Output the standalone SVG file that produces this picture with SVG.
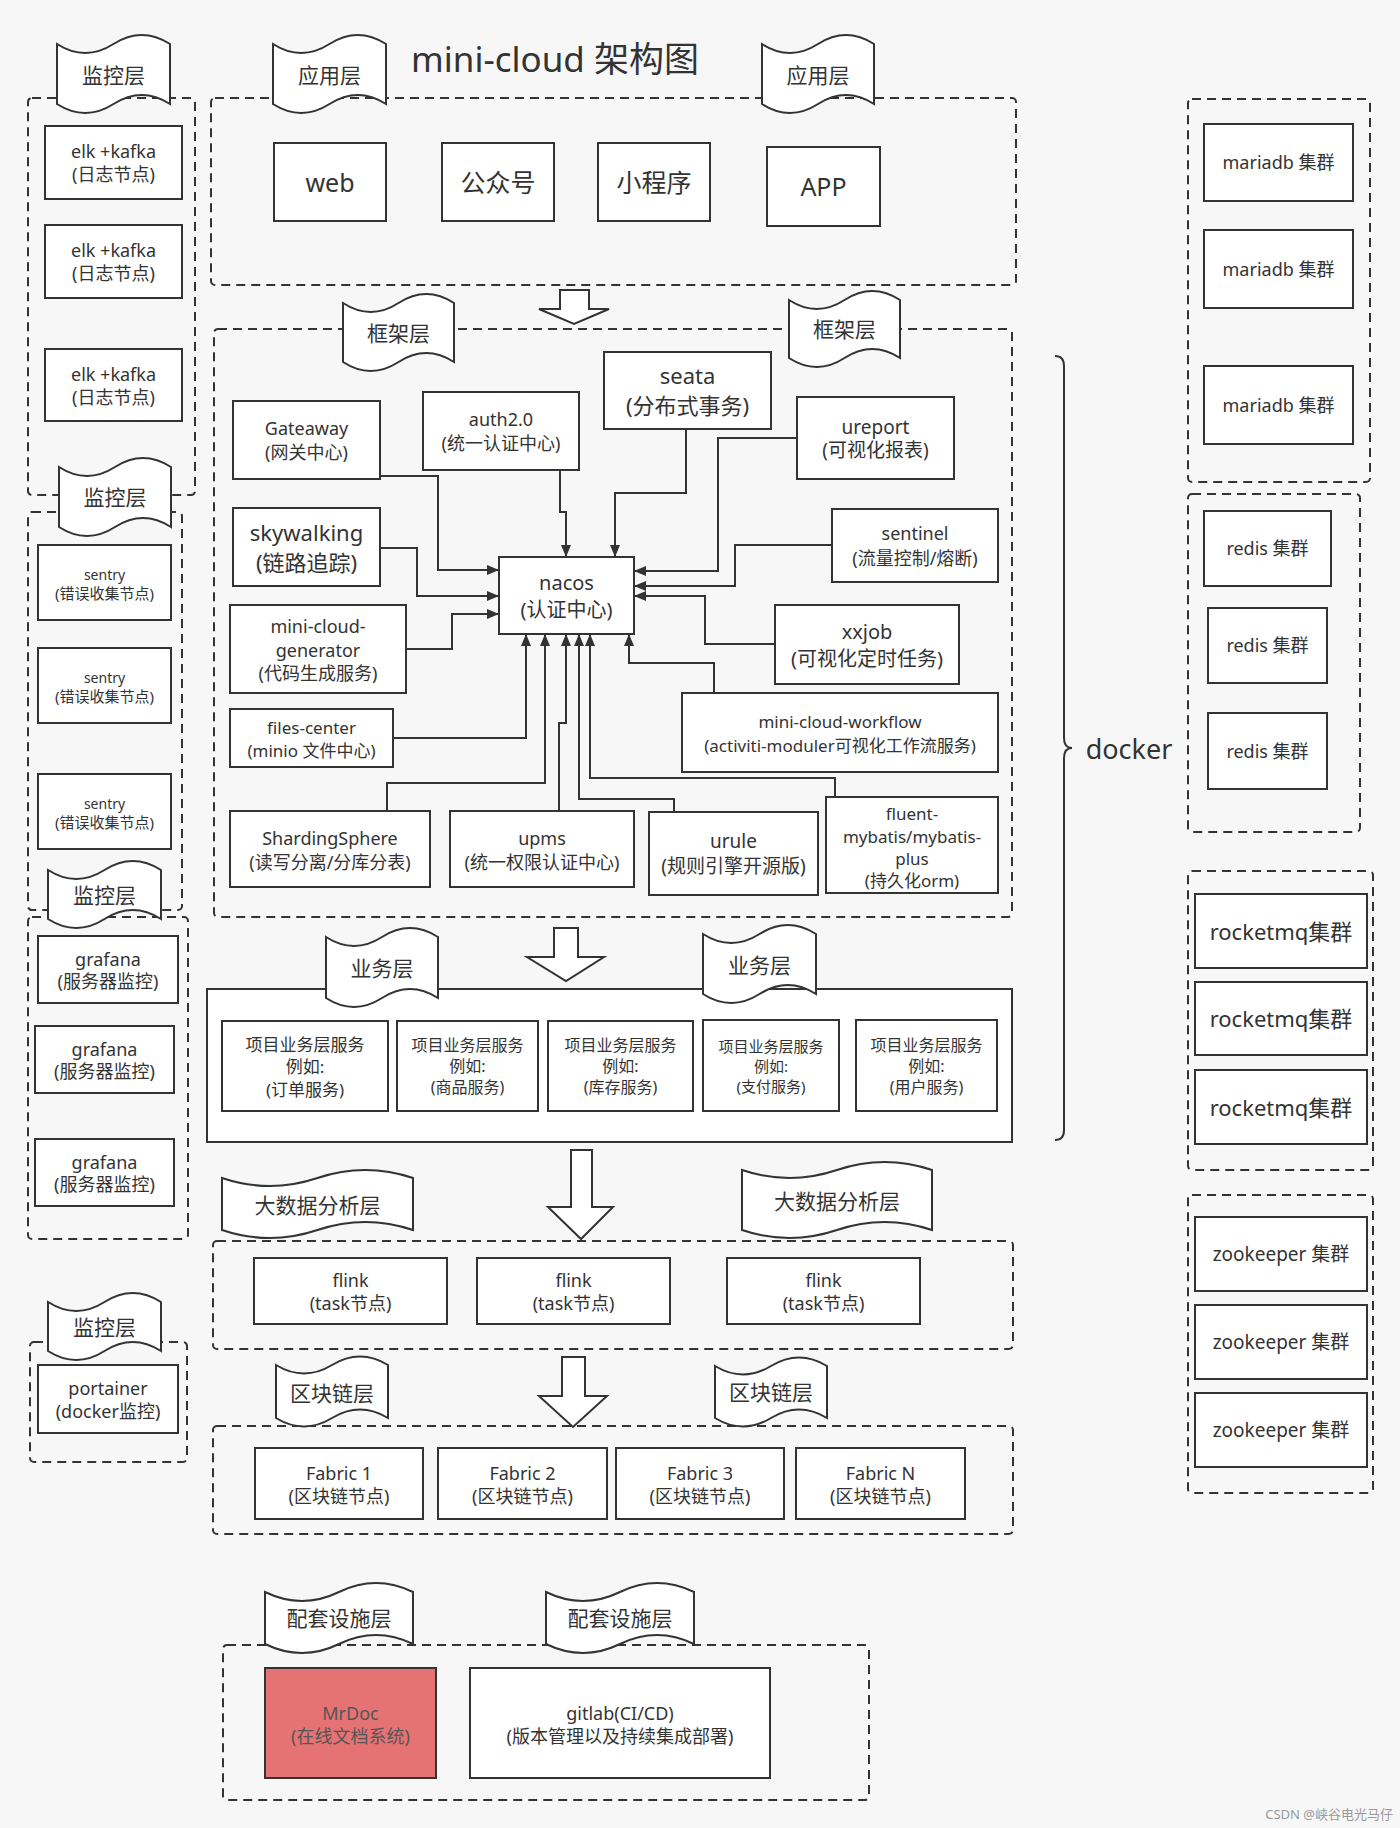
<svg xmlns="http://www.w3.org/2000/svg" width="1400" height="1828" viewBox="0 0 1400 1828">
<style>
.bg{fill:#f7f7f7}
.box{fill:#fff;stroke:#333;stroke-width:2}
.grp{fill:none;stroke:#333;stroke-width:2;stroke-dasharray:9 6}
.solid{fill:#fff;stroke:#333;stroke-width:2}
.tape{fill:#fff;stroke:#333;stroke-width:2}
.conn{fill:none;stroke:#333;stroke-width:2;marker-end:url(#ah)}
.big{fill:#fff;stroke:#333;stroke-width:2;stroke-linejoin:miter}
text{font-family:"Noto Sans","Noto Sans CJK SC",sans-serif;fill:#333;text-anchor:middle;dominant-baseline:central}
.f14{font-size:14px}.f15{font-size:15px}.f16{font-size:16px}.f17{font-size:17px}.f18{font-size:18px}.f19{font-size:19px}.f20{font-size:20px}.f22{font-size:22px}.f23{font-size:23px}.f24{font-size:24px}.f25{font-size:25px}
.lbl{font-size:21px}
.mr{fill:#e57373}
.mrt{fill:#555}
</style>
<defs>
<marker id="ah" viewBox="0 0 12 10" refX="12" refY="5" markerWidth="12" markerHeight="10" markerUnits="userSpaceOnUse" orient="auto"><path d="M0,0 L12,5 L0,10 Z" fill="#333"/></marker>
</defs>
<rect class="bg" x="0" y="0" width="1400" height="1828"/>

<g id="containers">
<rect class="grp" x="28" y="98" width="167" height="397" rx="4"/>
<rect class="grp" x="28" y="512" width="154" height="398" rx="4"/>
<rect class="grp" x="28" y="917" width="160" height="322" rx="4"/>
<rect class="grp" x="30" y="1342" width="157" height="120" rx="4"/>
<rect class="grp" x="211" y="98" width="805" height="187" rx="4"/>
<rect class="grp" x="214" y="329" width="798" height="588" rx="4"/>
<rect class="solid" x="207" y="989" width="805" height="153"/>
<rect class="grp" x="213" y="1241" width="800" height="108" rx="4"/>
<rect class="grp" x="213" y="1426" width="800" height="108" rx="4"/>
<rect class="grp" x="223" y="1645" width="646" height="155" rx="4"/>
<rect class="grp" x="1188" y="99" width="182" height="383" rx="4"/>
<rect class="grp" x="1188" y="494" width="172" height="338" rx="4"/>
<rect class="grp" x="1188" y="871" width="185" height="299" rx="4"/>
<rect class="grp" x="1188" y="1195" width="185" height="298" rx="4"/>
</g>

<g id="banners">
<path class="tape" d="M57,44 Q85.25,62 113.5,44 T170,44 L170,104 Q141.75,86 113.5,104 T57,104 Z"/><text class="lbl" x="113.5" y="75">监控层</text>
<path class="tape" d="M273,44 Q301.25,62 329.5,44 T386,44 L386,104 Q357.75,86 329.5,104 T273,104 Z"/><text class="lbl" x="329.5" y="75">应用层</text>
<path class="tape" d="M762,44 Q790,62 818,44 T874,44 L874,104 Q846,86 818,104 T762,104 Z"/><text class="lbl" x="818" y="75">应用层</text>
<path class="tape" d="M343,303 Q370.75,321 398.5,303 T454,303 L454,362 Q426.25,344 398.5,362 T343,362 Z"/><text class="lbl" x="398.5" y="333">框架层</text>
<path class="tape" d="M789,300 Q816.75,318 844.5,300 T900,300 L900,358 Q872.25,340 844.5,358 T789,358 Z"/><text class="lbl" x="844.5" y="329">框架层</text>
<path class="tape" d="M59,467 Q87,485 115,467 T171,467 L171,527 Q143,509 115,527 T59,527 Z"/><text class="lbl" x="115" y="497">监控层</text>
<path class="tape" d="M48,870 Q76.25,888 104.5,870 T161,870 L161,919 Q132.75,901 104.5,919 T48,919 Z"/><text class="lbl" x="104.5" y="895">监控层</text>
<path class="tape" d="M48,1302 Q76.25,1320 104.5,1302 T161,1302 L161,1351 Q132.75,1333 104.5,1351 T48,1351 Z"/><text class="lbl" x="104.5" y="1327">监控层</text>
<path class="tape" d="M326,937 Q354,955 382,937 T438,937 L438,998 Q410,980 382,998 T326,998 Z"/><text class="lbl" x="382" y="968">业务层</text>
<path class="tape" d="M703,934 Q731.25,952 759.5,934 T816,934 L816,994 Q787.75,976 759.5,994 T703,994 Z"/><text class="lbl" x="759.5" y="965">业务层</text>
<path class="tape" d="M222,1178 Q269.75,1194 317.5,1178 T413,1178 L413,1230 Q365.25,1214 317.5,1230 T222,1230 Z"/><text class="lbl" x="317.5" y="1205">大数据分析层</text>
<path class="tape" d="M742,1170 Q789.5,1186 837,1170 T932,1170 L932,1230 Q884.5,1214 837,1230 T742,1230 Z"/><text class="lbl" x="837" y="1201">大数据分析层</text>
<path class="tape" d="M276,1365 Q304,1382 332,1365 T388,1365 L388,1418 Q360,1401 332,1418 T276,1418 Z"/><text class="lbl" x="332" y="1393">区块链层</text>
<path class="tape" d="M715,1366 Q743,1383 771,1366 T827,1366 L827,1418 Q799,1401 771,1418 T715,1418 Z"/><text class="lbl" x="771" y="1392">区块链层</text>
<path class="tape" d="M265,1592 Q302,1610 339,1592 T413,1592 L413,1644 Q376,1626 339,1644 T265,1644 Z"/><text class="lbl" x="339" y="1618">配套设施层</text>
<path class="tape" d="M546,1592 Q583,1610 620,1592 T694,1592 L694,1644 Q657,1626 620,1644 T546,1644 Z"/><text class="lbl" x="620" y="1618">配套设施层</text>
</g>

<text x="411" y="58" style="font-size:35px;text-anchor:start">mini-cloud 架构图</text>

<g id="big-arrows">
<polygon class="big" points="560,290 589,290 589,309 609,309 574,324 539,309 560,309"/>
<polygon class="big" points="554,928 578,928 578,957 604,957 566,981 527,957 554,957"/>
<polygon class="big" points="571,1150 592,1150 592,1207 613,1207 581,1239 548,1207 571,1207"/>
<polygon class="big" points="562,1357 585,1357 585,1396 607,1396 573,1427 539,1396 562,1396"/>
</g>

<g id="connectors">
<path class="conn" d="M380,476 H438 V570 H499"/>
<path class="conn" d="M560,470 V512 H566 V557"/>
<path class="conn" d="M686,429 V493 H615 V557"/>
<path class="conn" d="M380,548 H417 V596 H499"/>
<path class="conn" d="M406,649 H452 V614 H499"/>
<path class="conn" d="M797,438 H718 V571 H634"/>
<path class="conn" d="M832,545 H735 V586 H634"/>
<path class="conn" d="M775,644 H705 V596 H634"/>
<path class="conn" d="M714,693 V663 H629 V634"/>
<path class="conn" d="M393,738 H526 V634"/>
<path class="conn" d="M387,811 V783 H545 V634"/>
<path class="conn" d="M559,811 V723 H566 V634"/>
<path class="conn" d="M674,812 V799 H579 V634"/>
<path class="conn" d="M835,797 V778 H590 V634"/>
</g>

<g id="n-elk1"><rect class="box" x="45" y="126" width="137" height="73"/><text class="f18" x="113.5" y="151">elk +kafka</text><text class="f18" x="113.5" y="174">(日志节点)</text></g>
<g id="n-elk2"><rect class="box" x="45" y="225" width="137" height="73"/><text class="f18" x="113.5" y="250">elk +kafka</text><text class="f18" x="113.5" y="273">(日志节点)</text></g>
<g id="n-elk3"><rect class="box" x="45" y="349" width="137" height="72"/><text class="f18" x="113.5" y="374">elk +kafka</text><text class="f18" x="113.5" y="397">(日志节点)</text></g>

<g id="n-sentry1"><rect class="box" x="38" y="545" width="133" height="75"/><text class="f14" x="104.5" y="574">sentry</text><text class="f15" x="104.5" y="593">(错误收集节点)</text></g>
<g id="n-sentry2"><rect class="box" x="38" y="648" width="133" height="75"/><text class="f14" x="104.5" y="677">sentry</text><text class="f15" x="104.5" y="696">(错误收集节点)</text></g>
<g id="n-sentry3"><rect class="box" x="38" y="774" width="133" height="75"/><text class="f14" x="104.5" y="803">sentry</text><text class="f15" x="104.5" y="822">(错误收集节点)</text></g>

<g id="n-grafana1"><rect class="box" x="38" y="936" width="140" height="67"/><text class="f18" x="108" y="959">grafana</text><text class="f18" x="108" y="981">(服务器监控)</text></g>
<g id="n-grafana2"><rect class="box" x="35" y="1026" width="139" height="67"/><text class="f18" x="104.5" y="1049">grafana</text><text class="f18" x="104.5" y="1071">(服务器监控)</text></g>
<g id="n-grafana3"><rect class="box" x="35" y="1139" width="139" height="67"/><text class="f18" x="104.5" y="1162">grafana</text><text class="f18" x="104.5" y="1184">(服务器监控)</text></g>
<g id="n-portainer"><rect class="box" x="38" y="1365" width="140" height="68"/><text class="f18" x="108" y="1388">portainer</text><text class="f18" x="108" y="1411">(docker监控)</text></g>

<g id="n-web"><rect class="box" x="274" y="143" width="112" height="78"/><text class="f25" x="330" y="182">web</text></g>
<g id="n-gzh"><rect class="box" x="442" y="143" width="112" height="78"/><text class="f25" x="498" y="182">公众号</text></g>
<g id="n-xcx"><rect class="box" x="598" y="143" width="112" height="78"/><text class="f25" x="654" y="182">小程序</text></g>
<g id="n-app"><rect class="box" x="767" y="147" width="113" height="79"/><text class="f25" x="823.5" y="186">APP</text></g>

<g id="n-gateaway"><rect class="box" x="233" y="401" width="147" height="78"/><text class="f18" x="306.5" y="428">Gateaway</text><text class="f18" x="306.5" y="452">(网关中心)</text></g>
<g id="n-auth"><rect class="box" x="423" y="392" width="156" height="78"/><text class="f18" x="501" y="419">auth2.0</text><text class="f18" x="501" y="443">(统一认证中心)</text></g>
<g id="n-seata"><rect class="box" x="604" y="352" width="167" height="77"/><text class="f22" x="687.5" y="375">seata</text><text class="f22" x="687.5" y="405">(分布式事务)</text></g>
<g id="n-ureport"><rect class="box" x="797" y="397" width="157" height="82"/><text class="f19" x="875.5" y="427">ureport</text><text class="f19" x="875.5" y="450">(可视化报表)</text></g>
<g id="n-skywalking"><rect class="box" x="233" y="508" width="147" height="78"/><text class="f22" x="306.5" y="532">skywalking</text><text class="f22" x="306.5" y="562">(链路追踪)</text></g>
<g id="n-nacos"><rect class="box" x="499" y="557" width="135" height="77"/><text class="f20" x="566.5" y="582">nacos</text><text class="f20" x="566.5" y="609">(认证中心)</text></g>
<g id="n-sentinel"><rect class="box" x="832" y="509" width="166" height="73"/><text class="f18" x="915" y="533">sentinel</text><text class="f18" x="915" y="558">(流量控制/熔断)</text></g>
<g id="n-generator"><rect class="box" x="230" y="605" width="176" height="88"/><text class="f18" x="318" y="626">mini-cloud-</text><text class="f18" x="318" y="650">generator</text><text class="f18" x="318" y="673">(代码生成服务)</text></g>
<g id="n-xxjob"><rect class="box" x="775" y="605" width="184" height="79"/><text class="f20" x="867" y="631">xxjob</text><text class="f20" x="867" y="658">(可视化定时任务)</text></g>
<g id="n-files"><rect class="box" x="230" y="709" width="163" height="58"/><text class="f17" x="311.5" y="727">files-center</text><text class="f17" x="311.5" y="750">(minio 文件中心)</text></g>
<g id="n-workflow"><rect class="box" x="682" y="693" width="316" height="79"/><text class="f17" x="840" y="721">mini-cloud-workflow</text><text class="f17" x="840" y="745">(activiti-moduler可视化工作流服务)</text></g>
<g id="n-sharding"><rect class="box" x="230" y="811" width="200" height="76"/><text class="f18" x="330" y="838">ShardingSphere</text><text class="f18" x="330" y="862">(读写分离/分库分表)</text></g>
<g id="n-upms"><rect class="box" x="450" y="811" width="184" height="76"/><text class="f18" x="542" y="838">upms</text><text class="f18" x="542" y="862">(统一权限认证中心)</text></g>
<g id="n-urule"><rect class="box" x="649" y="812" width="169" height="83"/><text class="f19" x="733.5" y="841">urule</text><text class="f19" x="733.5" y="866">(规则引擎开源版)</text></g>
<g id="n-fluent"><rect class="box" x="826" y="797" width="172" height="96"/><text class="f17" x="912" y="813">fluent-</text><text class="f17" x="912" y="836">mybatis/mybatis-</text><text class="f17" x="912" y="858">plus</text><text class="f17" x="912" y="880">(持久化orm)</text></g>

<g id="n-biz1"><rect class="box" x="222" y="1021" width="166" height="90"/><text class="f17" x="305" y="1044">项目业务层服务</text><text class="f17" x="305" y="1066">例如:</text><text class="f17" x="305" y="1089">(订单服务)</text></g>
<g id="n-biz2"><rect class="box" x="397" y="1021" width="141" height="90"/><text class="f16" x="467.5" y="1045">项目业务层服务</text><text class="f16" x="467.5" y="1066">例如:</text><text class="f16" x="467.5" y="1087">(商品服务)</text></g>
<g id="n-biz3"><rect class="box" x="548" y="1021" width="145" height="90"/><text class="f16" x="620.5" y="1045">项目业务层服务</text><text class="f16" x="620.5" y="1066">例如:</text><text class="f16" x="620.5" y="1087">(库存服务)</text></g>
<g id="n-biz4"><rect class="box" x="703" y="1020" width="136" height="91"/><text class="f15" x="771" y="1046">项目业务层服务</text><text class="f15" x="771" y="1066">例如:</text><text class="f15" x="771" y="1086">(支付服务)</text></g>
<g id="n-biz5"><rect class="box" x="856" y="1020" width="141" height="91"/><text class="f16" x="926.5" y="1045">项目业务层服务</text><text class="f16" x="926.5" y="1066">例如:</text><text class="f16" x="926.5" y="1087">(用户服务)</text></g>

<g id="n-flink1"><rect class="box" x="254" y="1258" width="193" height="66"/><text class="f18" x="350.5" y="1280">flink</text><text class="f18" x="350.5" y="1303">(task节点)</text></g>
<g id="n-flink2"><rect class="box" x="477" y="1258" width="193" height="66"/><text class="f18" x="573.5" y="1280">flink</text><text class="f18" x="573.5" y="1303">(task节点)</text></g>
<g id="n-flink3"><rect class="box" x="727" y="1258" width="193" height="66"/><text class="f18" x="823.5" y="1280">flink</text><text class="f18" x="823.5" y="1303">(task节点)</text></g>

<g id="n-fabric1"><rect class="box" x="255" y="1448" width="168" height="71"/><text class="f18" x="339" y="1473">Fabric 1</text><text class="f18" x="339" y="1496">(区块链节点)</text></g>
<g id="n-fabric2"><rect class="box" x="438" y="1448" width="169" height="71"/><text class="f18" x="522.5" y="1473">Fabric 2</text><text class="f18" x="522.5" y="1496">(区块链节点)</text></g>
<g id="n-fabric3"><rect class="box" x="616" y="1448" width="168" height="71"/><text class="f18" x="700" y="1473">Fabric 3</text><text class="f18" x="700" y="1496">(区块链节点)</text></g>
<g id="n-fabricN"><rect class="box" x="796" y="1448" width="169" height="71"/><text class="f18" x="880.5" y="1473">Fabric N</text><text class="f18" x="880.5" y="1496">(区块链节点)</text></g>

<g id="n-mrdoc"><rect class="box mr" x="265" y="1668" width="171" height="110"/><text class="f18 mrt" x="350.5" y="1713">MrDoc</text><text class="f18 mrt" x="350.5" y="1736">(在线文档系统)</text></g>
<g id="n-gitlab"><rect class="box" x="470" y="1668" width="300" height="110"/><text class="f18" x="620" y="1713">gitlab(CI/CD)</text><text class="f18" x="620" y="1736">(版本管理以及持续集成部署)</text></g>

<g id="n-mariadb1"><rect class="box" x="1204" y="124" width="149" height="77"/><text class="f18" x="1278.5" y="162">mariadb 集群</text></g>
<g id="n-mariadb2"><rect class="box" x="1204" y="230" width="149" height="78"/><text class="f18" x="1278.5" y="269">mariadb 集群</text></g>
<g id="n-mariadb3"><rect class="box" x="1204" y="366" width="149" height="78"/><text class="f18" x="1278.5" y="405">mariadb 集群</text></g>
<g id="n-redis1"><rect class="box" x="1204" y="511" width="127" height="75"/><text class="f18" x="1267.5" y="548">redis 集群</text></g>
<g id="n-redis2"><rect class="box" x="1208" y="608" width="119" height="75"/><text class="f18" x="1267.5" y="645">redis 集群</text></g>
<g id="n-redis3"><rect class="box" x="1208" y="713" width="119" height="76"/><text class="f18" x="1267.5" y="751">redis 集群</text></g>
<g id="n-rmq1"><rect class="box" x="1195" y="894" width="172" height="74"/><text class="f22" x="1281" y="931">rocketmq集群</text></g>
<g id="n-rmq2"><rect class="box" x="1195" y="982" width="172" height="73"/><text class="f22" x="1281" y="1018">rocketmq集群</text></g>
<g id="n-rmq3"><rect class="box" x="1195" y="1070" width="172" height="74"/><text class="f22" x="1281" y="1107">rocketmq集群</text></g>
<g id="n-zk1"><rect class="box" x="1195" y="1217" width="172" height="74"/><text class="f19" x="1281" y="1254">zookeeper 集群</text></g>
<g id="n-zk2"><rect class="box" x="1195" y="1305" width="172" height="74"/><text class="f19" x="1281" y="1342">zookeeper 集群</text></g>
<g id="n-zk3"><rect class="box" x="1195" y="1393" width="172" height="74"/><text class="f19" x="1281" y="1430">zookeeper 集群</text></g>

<g id="docker">
<path d="M1055,356 Q1064,356 1064,366 L1064,738 Q1064,748 1072,748 Q1064,748 1064,758 L1064,1130 Q1064,1140 1055,1140" fill="none" stroke="#333" stroke-width="2"/>
<text x="1129" y="748" style="font-size:27px">docker</text>
</g>

<text x="1393" y="1814" style="font-size:13px;text-anchor:end;fill:#999">CSDN @峡谷电光马仔</text>
</svg>
